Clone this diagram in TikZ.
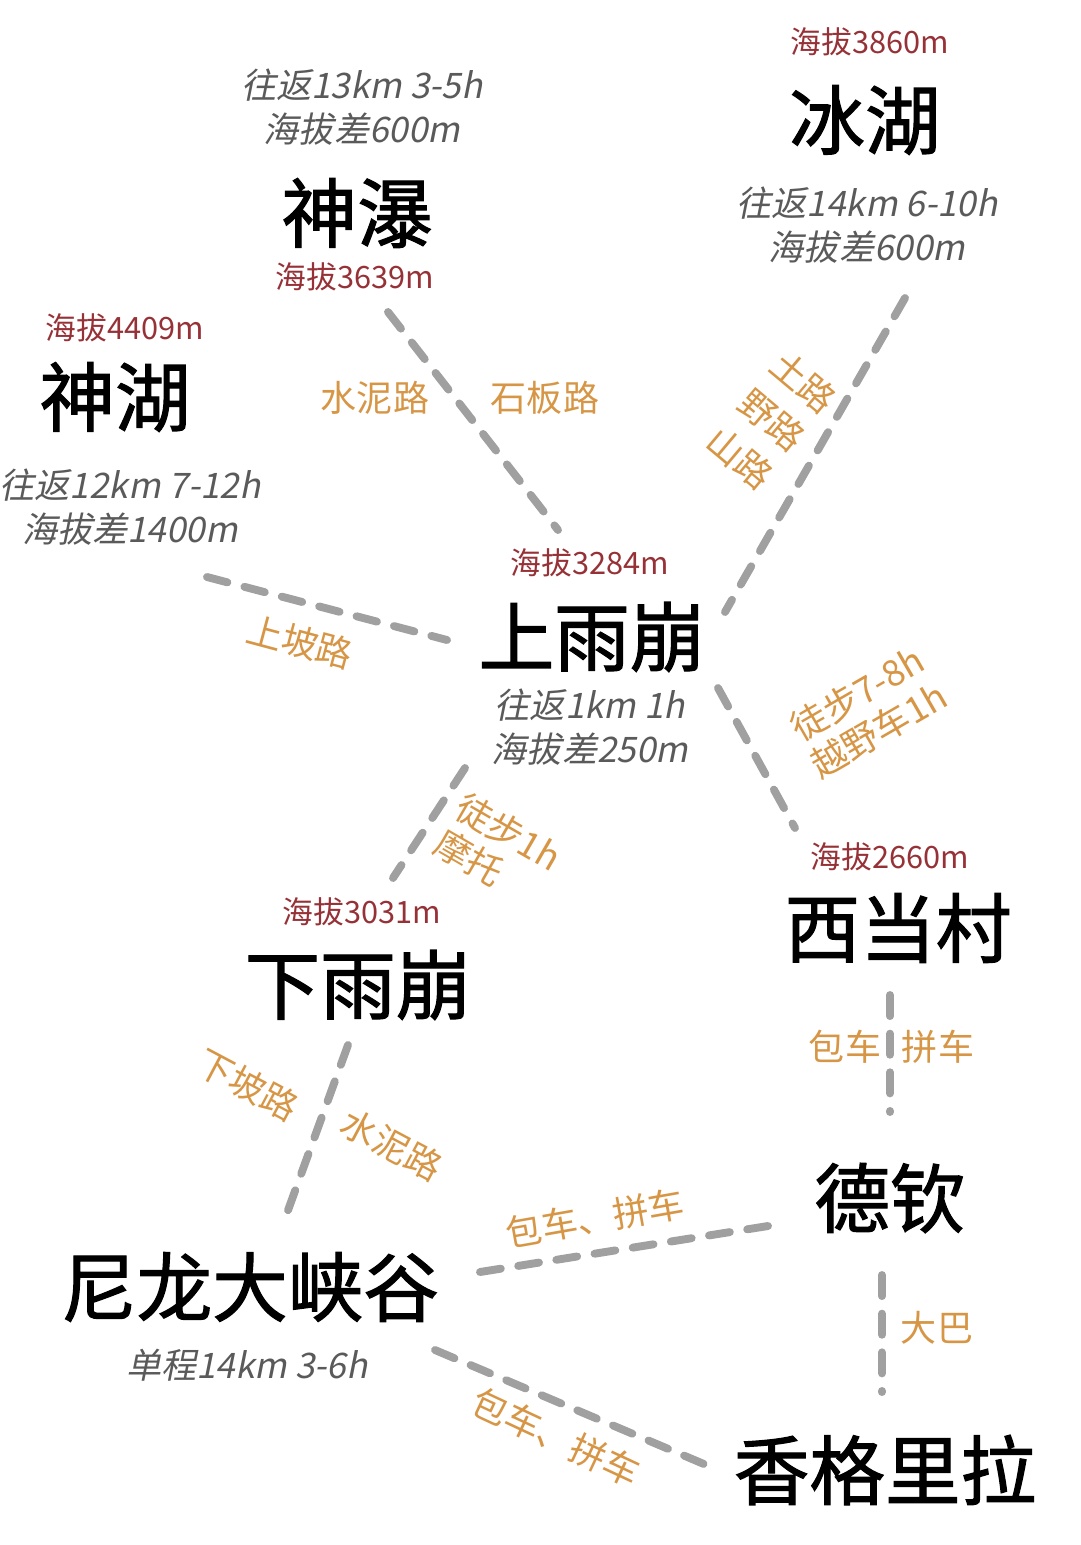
\documentclass[tikz,border=0pt]{standalone}
\usepackage{fontspec}
\setmainfont{Liberation Serif}
\newfontfamily\cjk{Noto Sans CJK SC}
\newfontfamily\cjkbold{Noto Sans CJK SC}[FakeBold=1.5]
\newfontfamily\cjkit{Noto Sans CJK SC}[FakeSlant=0.2]
\definecolor{alt}{RGB}{150,50,55}
\definecolor{road}{RGB}{214,150,70}
\definecolor{info}{RGB}{90,90,90}
\definecolor{dashgray}{RGB}{160,160,160}
\tikzset{
  place/.style={font=\cjkbold\fontsize{43}{47}\selectfont, inner sep=0pt},
  height/.style={font=\cjk\fontsize{17.5}{19}\selectfont, text=alt, inner sep=0pt},
  trip/.style={font=\cjkit\fontsize{20}{25}\selectfont, text=info, align=center, inner sep=0pt},
  way/.style={font=\cjk\fontsize{20.5}{24}\selectfont, text=road, align=center, inner sep=0pt},
  path/.style={line width=4.5pt, draw=dashgray, line cap=round, dash pattern=on 12pt off 10pt}
}
\begin{document}
\begin{tikzpicture}[x=0.02cm, y=-0.02cm]
\useasboundingbox (0,0) rectangle (1080,1545);
% places
\node[place] (binghu) at (865,120) {冰湖};
\node[height] at (870,42) {海拔3860m};
\node[trip] at (867,225) {往返14km 6-10h\\海拔差600m};
\node[place] (shenpu) at (357,213) {神瀑};
\node[trip] at (362,107) {往返13km 3-5h\\海拔差600m};
\node[height] at (355,277) {海拔3639m};
\node[place] (shenhu) at (115,397) {神湖};
\node[height] at (125,328) {海拔4409m};
\node[trip] at (130,507) {往返12km 7-12h\\海拔差1400m};
\node[place] (shang) at (592,637) {上雨崩};
\node[height] at (590,563) {海拔3284m};
\node[trip] at (590,727) {往返1km 1h\\海拔差250m};
\node[place] (xidang) at (898,928) {西当村};
\node[height] at (890,857) {海拔2660m};
\node[place] (xia) at (358,985) {下雨崩};
\node[height] at (362,912) {海拔3031m};
\node[place] (deqin) at (890,1198) {德钦};
\node[place] (nilong) at (250,1287) {尼龙大峡谷};
\node[trip] at (247,1365) {单程14km 3-6h};
\node[place] (xgll) at (885,1470) {香格里拉};
% road ends
\coordinate (a1) at (388,312);  \coordinate (a2) at (558,530);
\coordinate (b1) at (905,298);  \coordinate (b2) at (725,612);
\coordinate (c1) at (207,577);  \coordinate (c2) at (447,640);
\coordinate (d1) at (718,688);  \coordinate (d2) at (795,828);
\coordinate (e1) at (465,768);  \coordinate (e2) at (393,878);
\coordinate (f1) at (890,995);  \coordinate (f2) at (890,1112);
\coordinate (g1) at (348,1045); \coordinate (g2) at (287,1213);
\coordinate (h1) at (768,1226); \coordinate (h2) at (480,1272);
\coordinate (i1) at (882,1275); \coordinate (i2) at (882,1392);
\coordinate (j1) at (435,1350); \coordinate (j2) at (718,1470);
\draw[path] (a1) -- (a2);
\draw[path] (b1) -- (b2);
\draw[path] (c1) -- (c2);
\draw[path] (d1) -- (d2);
\draw[path] (e1) -- (e2);
\draw[path] (f1) -- (f2);
\draw[path] (g1) -- (g2);
\draw[path] (h1) -- (h2);
\draw[path] (i1) -- (i2);
\draw[path] (j1) -- (j2);
% road labels
\node[way] at (375,398) {水泥路};
\node[way] at (545,398) {石板路};
\node[way, rotate=-40, font=\cjk\fontsize{20.5}{28}\selectfont] at (772,420) {土路\\野路\\山路};
\node[way, rotate=-15] at (300,642) {上坡路};
\node[way, rotate=30] at (868,712) {徒步7-8h\\越野车1h};
\node[way, rotate=-30, align=left] at (498,850) {徒步1h\\摩托};
\node[way] at (845,1047) {包车};
\node[way] at (938,1047) {拼车};
\node[way, rotate=-28] at (248,1085) {下坡路};
\node[way, rotate=-28] at (392,1145) {水泥路};
\node[way, rotate=10] at (595,1218) {包车、拼车};
\node[way] at (937,1328) {大巴};
\node[way, rotate=-25] at (556,1437) {包车、拼车};
\end{tikzpicture}
\end{document}
